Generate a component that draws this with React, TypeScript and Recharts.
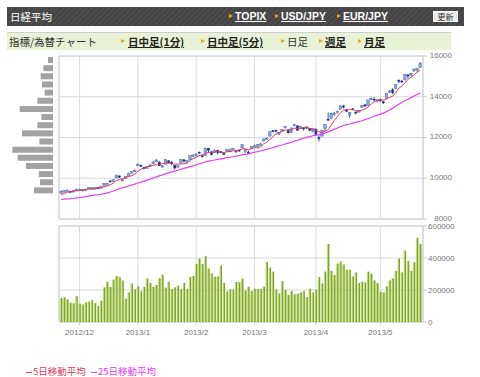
import React from 'react';
import { ComposedChart, BarChart, Bar, Line, XAxis, YAxis, CartesianGrid, ReferenceArea } from 'recharts';

// trading days shown on the chart
const dates = [
    '2012/11/22', '2012/11/26', '2012/11/27', '2012/11/28', '2012/11/29', '2012/11/30',
    '2012/12/03', '2012/12/04', '2012/12/05', '2012/12/06', '2012/12/07', '2012/12/10', '2012/12/11', '2012/12/12',
    '2012/12/13', '2012/12/14', '2012/12/17', '2012/12/18', '2012/12/19', '2012/12/20', '2012/12/21', '2012/12/25',
    '2012/12/26', '2012/12/27', '2012/12/28',
    '2013/01/04', '2013/01/07', '2013/01/08', '2013/01/09', '2013/01/10', '2013/01/11', '2013/01/15', '2013/01/16',
    '2013/01/17', '2013/01/18', '2013/01/21', '2013/01/22', '2013/01/23', '2013/01/24', '2013/01/25', '2013/01/28',
    '2013/01/29', '2013/01/30', '2013/01/31',
    '2013/02/01', '2013/02/04', '2013/02/05', '2013/02/06', '2013/02/07', '2013/02/08', '2013/02/12', '2013/02/13',
    '2013/02/14', '2013/02/15', '2013/02/18', '2013/02/19', '2013/02/20', '2013/02/21', '2013/02/22', '2013/02/25',
    '2013/02/26', '2013/02/27', '2013/02/28',
    '2013/03/01', '2013/03/04', '2013/03/05', '2013/03/06', '2013/03/07', '2013/03/08', '2013/03/11', '2013/03/12',
    '2013/03/13', '2013/03/14', '2013/03/15', '2013/03/18', '2013/03/19', '2013/03/21', '2013/03/22', '2013/03/25',
    '2013/03/26', '2013/03/27', '2013/03/28', '2013/03/29',
    '2013/04/01', '2013/04/02', '2013/04/03', '2013/04/04', '2013/04/05', '2013/04/08', '2013/04/09', '2013/04/10',
    '2013/04/11', '2013/04/12', '2013/04/15', '2013/04/16', '2013/04/17', '2013/04/18', '2013/04/19', '2013/04/22',
    '2013/04/23', '2013/04/24', '2013/04/25', '2013/04/26', '2013/04/30',
    '2013/05/01', '2013/05/02', '2013/05/07', '2013/05/08', '2013/05/09', '2013/05/10', '2013/05/13', '2013/05/14',
    '2013/05/15', '2013/05/16', '2013/05/17', '2013/05/20', '2013/05/21', '2013/05/22',
];

const opens = [
    9260, 9378, 9380, 9372, 9325, 9443,
    9456, 9442, 9424, 9515, 9518, 9510, 9553, 9560, 9640, 9715, 9882, 9850, 10018, 10125, 9930, 9975, 10104, 10296, 10323,
    10604, 10644, 10545, 10492, 10640, 10700, 10858, 10804, 10570, 10688, 10872, 10795, 10642, 10542, 10745, 10922, 10818, 10908, 11132,
    11107, 11290, 11124, 11125, 11482, 11318, 11275, 11386, 11322, 11228, 11393, 11355, 11437, 11376, 11390, 11492, 11351, 11296, 11453,
    11567, 11565, 11656, 11830, 11966, 12070, 12355, 12370, 12239, 12317, 12484, 12383, 12250, 12568, 12588, 12450, 12483, 12528, 12464, 12316,
    12428, 12008, 12072, 12458, 12903, 12921, 13150, 13249, 13382, 13571, 13368, 13098, 13420, 13260, 13260, 13500, 13621, 13575, 13867, 13891, 13792,
    13856, 13773, 13937, 14262, 14355, 14408, 14818, 14781, 14839, 15082, 15120, 15286, 15357, 15440,
];
const highs = [
    9400, 9420, 9430, 9392, 9410, 9495,
    9486, 9458, 9485, 9560, 9547, 9548, 9570, 9590, 9755, 9765, 9905, 9935, 10164, 10140, 9985, 10095, 10240, 10345, 10433,
    10734, 10672, 10555, 10590, 10678, 10850, 10952, 10832, 10645, 10925, 10875, 10851, 10655, 10638, 10943, 10952, 10890, 11116, 11171,
    11216, 11310, 11154, 11498, 11488, 11320, 11407, 11394, 11336, 11278, 11435, 11460, 11498, 11400, 11395, 11662, 11420, 11366, 11563,
    11640, 11655, 11721, 11943, 12003, 12284, 12364, 12377, 12275, 12390, 12560, 12413, 12475, 12650, 12593, 12568, 12505, 12541, 12478, 12435,
    12428, 12095, 12383, 12650, 13225, 13217, 13253, 13314, 13568, 13576, 13380, 13250, 13448, 13282, 13330, 13589, 13629, 13845, 13974, 13980, 13880,
    13911, 13798, 14187, 14325, 14415, 14621, 14852, 14838, 15104, 15108, 15178, 15381, 15418, 15700,
];
const lows = [
    9245, 9360, 9352, 9285, 9302, 9418,
    9437, 9410, 9405, 9505, 9485, 9490, 9510, 9538, 9630, 9685, 9800, 9815, 10000, 10010, 9850, 9960, 10095, 10260, 10297,
    10602, 10558, 10430, 10469, 10560, 10692, 10805, 10600, 10550, 10678, 10731, 10630, 10436, 10523, 10740, 10785, 10729, 10900, 11070,
    11070, 11234, 11017, 11105, 11282, 11120, 11256, 11180, 11223, 11138, 11370, 11330, 11410, 11240, 11310, 11488, 11250, 11195, 11440,
    11546, 11534, 11625, 11815, 11894, 12053, 12272, 12245, 12128, 12280, 12450, 12198, 12216, 12560, 12329, 12429, 12348, 12421, 12336, 12244,
    12135, 11805, 12049, 12290, 12830, 12895, 13070, 13180, 13380, 13425, 13243, 12981, 13340, 13145, 13245, 13458, 13529, 13560, 13835, 13820, 13731,
    13756, 13640, 13910, 14203, 14130, 14370, 14672, 14692, 14795, 14889, 14997, 15220, 15225, 15410,
];
const closes = [
    9366, 9389, 9423, 9308, 9400, 9446,
    9458, 9433, 9468, 9545, 9528, 9534, 9525, 9581, 9743, 9737, 9828, 9924, 10161, 10040, 9940, 10081, 10230, 10323, 10395,
    10689, 10599, 10509, 10578, 10652, 10801, 10879, 10600, 10610, 10913, 10748, 10710, 10487, 10621, 10927, 10824, 10866, 11114, 11139,
    11191, 11260, 11047, 11463, 11358, 11154, 11370, 11252, 11307, 11174, 11408, 11373, 11469, 11310, 11386, 11663, 11399, 11254, 11559,
    11607, 11653, 11683, 11932, 11969, 12283, 12349, 12315, 12240, 12382, 12560, 12221, 12469, 12636, 12339, 12547, 12472, 12494, 12336, 12398,
    12135, 12004, 12362, 12635, 12834, 13193, 13193, 13289, 13549, 13485, 13275, 13221, 13383, 13221, 13317, 13569, 13530, 13844, 13927, 13884, 13861,
    13800, 13695, 14181, 14285, 14192, 14608, 14782, 14759, 15097, 15037, 15138, 15360, 15382, 15627,
];
// closes before the window, needed for the moving averages
const priorCloses = [
    9002, 9010, 9014, 8955, 9056, 8934, 8930, 8841, 8928, 8946, 9052, 8975,
    8975, 8972, 8838, 8758, 8677, 8662, 8665, 8830, 9024, 9153, 9142, 9222,
];
const volumes = [
    150, 154, 142, 121, 117, 162, 115, 110, 123, 127, 137, 119, 100, 133, 217, 252, 219, 265, 287, 281,
    260, 146, 185, 240, 204, 223, 192, 219, 273, 244, 219, 231, 273, 296, 215, 252, 206, 217, 227,
    204, 244, 208, 281, 287, 362, 396, 362, 412, 335, 304, 283, 285, 354, 244, 192, 204, 202, 250, 248,
    271, 196, 221, 194, 208, 206, 206, 221, 375, 340, 315, 204, 179, 256, 202, 169, 194, 173, 177, 185,
    194, 156, 208, 185, 202, 281, 240, 315, 487, 319, 294, 365, 377, 360, 327, 327, 285, 310, 244, 252,
    248, 315, 302, 260, 244, 190, 185, 223, 260, 273, 319, 396, 310, 446, 381, 319, 373, 527, 487,
].map((v) => v * 1000);

const priceTicks = [8000, 10000, 12000, 14000, 16000];
const volumeTicks = [0, 200000, 400000, 600000];

// price-by-volume profile, 400 yen bins from the top
const profileBins = [
    '15800', '15400', '15000', '14600', '14200', '13800', '13400', '13000', '12600', '12200',
    '11800', '11400', '11000', '10600', '10200', '9800', '9400', '9000', '8600', '8200',
];
const profileVolumes = [50, 96, 123, 110, 83, 156, 333, 116, 156, 310, 136, 406, 353, 270, 143, 130, 190, 0, 0, 0];

const allCloses = [...priorCloses, ...closes];
const movingAverage = (n: number, i: number) => {
    const end = priorCloses.length + i + 1;
    const slice = allCloses.slice(end - n, end);
    return slice.reduce((a, b) => a + b, 0) / n;
};

const data = dates.map((d, i) => ({
    i,
    date: d,
    open: opens[i],
    high: highs[i],
    low: lows[i],
    close: closes[i],
    range: [lows[i], highs[i]],
    volume: volumes[i],
    ma5: movingAverage(5, i),
    ma25: movingAverage(25, i),
}));

const monthTicks = data.filter((d, i) => i > 0 && d.date.slice(0, 7) !== dates[i - 1].slice(0, 7)).map((d) => d.i);
const monthLabel = (v: number) => {
    const [y, m] = dates[v].split('/');
    return `${y}/${Number(m)}`;
};

const profileData = profileBins.map((b, i) => ({ bin: b, vol: profileVolumes[i] }));

const X_DOMAIN: [number, number] = [-0.7, 117.9];
const axisFont = { fontFamily: '"Liberation Sans", Arial, sans-serif', fontSize: 8, fill: '#777' };
const GRID = '#dadada';
const JP = '"Noto Sans CJK JP", sans-serif';

const Candle = (props: any) => {
    const { x, y, width, height, payload } = props;
    const span = payload.high - payload.low || 1;
    const py = (v: number) => y + ((payload.high - v) / span) * height;
    const up = payload.close >= payload.open;
    const cx = x + width / 2;
    const top = py(Math.max(payload.open, payload.close));
    const bh = Math.max(1.5, Math.abs(py(payload.open) - py(payload.close)));
    return (
        <g>
            <line x1={cx} x2={cx} y1={y} y2={y + height} stroke='#1f3a8c' strokeWidth={0.9} />
            <rect
                x={cx - 1.3}
                y={top}
                width={2.6}
                height={bh}
                fill={up ? '#86a4da' : '#1b2f88'}
                stroke={up ? '#4a68ae' : 'none'}
                strokeWidth={0.4}
            />
        </g>
    );
};

const VolumeBar = (props: any) => {
    const { x, y, width, height } = props;
    const cx = x + width / 2;
    return (
        <g>
            <rect x={cx - 1.2} y={y} width={1} height={height} fill='#c3dc88' />
            <rect x={cx - 0.2} y={y} width={1.5} height={height} fill='#7ea61e' />
        </g>
    );
};

const PriceTick = (props: any) => {
    const { x, y, payload } = props;
    return (
        <text x={x + 23} y={y - 1} dy='0.355em' textAnchor='end' {...axisFont}>
            {payload.value}
        </text>
    );
};

const Tri = ({ left, top }: { left: number; top: number }) => (
    <span
        style={{
            position: 'absolute',
            left,
            top,
            width: 0,
            height: 0,
            borderLeft: '4px solid #f3a21c',
            borderTop: '2.5px solid transparent',
            borderBottom: '2.5px solid transparent',
        }}
    />
);

const abs = (left: number, top: number, extra: React.CSSProperties = {}): React.CSSProperties => ({
    position: 'absolute',
    left,
    top,
    whiteSpace: 'nowrap',
    ...extra,
});

export default function App() {
    const headLink: React.CSSProperties = {
        fontFamily: '"Liberation Sans", Arial, sans-serif',
        fontWeight: 'bold',
        fontSize: 10.5,
        color: '#fff',
        textDecoration: 'underline',
        lineHeight: '19px',
    };
    const tab: React.CSSProperties = {
        fontFamily: JP,
        fontWeight: 'bold',
        fontSize: 10.5,
        color: '#222',
        textDecoration: 'underline',
        lineHeight: '17px',
    };
    return (
        <div style={{ position: 'absolute', left: 0, top: 0, width: 480, height: 377, background: '#fff', overflow: 'hidden' }}>
            {/* header */}
            <div
                style={abs(7, 7, {
                    width: 457,
                    height: 19,
                    background: 'repeating-linear-gradient(135deg, #4d4d4d 0 2px, #444 2px 4px)',
                })}
            />
            <div style={abs(10, 7, { fontFamily: JP, fontSize: 10.5, color: '#fff', lineHeight: '19px' })}>日経平均</div>
            <Tri left={229} top={14} />
            <div style={abs(235, 7, headLink)}>TOPIX</div>
            <Tri left={275} top={14} />
            <div style={abs(281, 7, headLink)}>USD/JPY</div>
            <Tri left={337} top={14} />
            <div style={abs(343, 7, headLink)}>EUR/JPY</div>
            <div
                style={abs(433, 11, {
                    width: 25,
                    height: 11,
                    background: '#ebebeb',
                    boxSizing: 'border-box',
                    border: '1px solid #fafafa',
                    fontFamily: JP,
                    fontSize: 8,
                    lineHeight: '9px',
                    color: '#333',
                    textAlign: 'center',
                })}
            >
                更新
            </div>

            {/* tabs row */}
            <div style={abs(7, 32, { width: 444, height: 17, background: '#e8f2d4', borderTop: '1px solid #cfcfcf' })} />
            <div style={abs(9, 33, { fontFamily: JP, fontSize: 10.5, color: '#333', lineHeight: '17px' })}>指標/為替チャート</div>
            <Tri left={121} top={39} />
            <div style={abs(128, 33, tab)}>日中足(1分)</div>
            <Tri left={201} top={39} />
            <div style={abs(207, 33, tab)}>日中足(5分)</div>
            <Tri left={281} top={39} />
            <div style={abs(287, 33, { ...tab, fontWeight: 'normal', textDecoration: 'none', color: '#333' })}>日足</div>
            <Tri left={319} top={39} />
            <div style={abs(325, 33, tab)}>週足</div>
            <Tri left={358} top={39} />
            <div style={abs(364, 33, tab)}>月足</div>

            {/* volume profile */}
            <div style={abs(0, 0)}>
                <BarChart width={56} height={222} data={profileData} layout='vertical' margin={{ top: 56, right: 3, bottom: 3, left: 0 }}>
                    <XAxis type='number' domain={[0, 530]} reversed hide />
                    <YAxis type='category' dataKey='bin' hide />
                    <Bar dataKey='vol' fill='#a2a2a2' barSize={6} isAnimationActive={false} />
                </BarChart>
            </div>

            {/* price chart */}
            <div style={abs(0, 0)}>
                <ComposedChart width={480} height={234} data={data} margin={{ top: 56, right: 0, bottom: 15, left: 59 }}>
                    <CartesianGrid stroke={GRID} />
                    <XAxis dataKey='i' type='number' domain={X_DOMAIN} ticks={monthTicks} allowDataOverflow hide />
                    <YAxis
                        orientation='right'
                        domain={[8000, 16000]}
                        ticks={priceTicks}
                        interval={0}
                        width={57}
                        axisLine={false}
                        tickLine={{ stroke: '#ccc' }}
                        tickSize={4}
                        tickMargin={2}
                        tick={<PriceTick />}
                        allowDataOverflow
                    />
                    <ReferenceArea x1={X_DOMAIN[0]} x2={X_DOMAIN[1]} y1={8000} y2={16000} fill='none' stroke='#cfcfcf' />
                    <Bar dataKey='range' barSize={3} shape={<Candle />} isAnimationActive={false} />
                    <Line dataKey='ma25' stroke='#e040f5' strokeWidth={1.2} dot={false} isAnimationActive={false} />
                    <Line dataKey='ma5' stroke='#e4385e' strokeWidth={1} dot={false} isAnimationActive={false} />
                </ComposedChart>
            </div>

            {/* volume chart */}
            <div style={abs(0, 0)}>
                <BarChart width={480} height={345} data={data} margin={{ top: 226, right: 0, bottom: 0, left: 59 }}>
                    <CartesianGrid stroke={GRID} />
                    <XAxis
                        dataKey='i'
                        type='number'
                        domain={X_DOMAIN}
                        ticks={monthTicks}
                        interval={0}
                        allowDataOverflow
                        tickFormatter={monthLabel}
                        tick={axisFont}
                        tickLine={{ stroke: '#ccc' }}
                        tickSize={3}
                        tickMargin={4}
                        axisLine={false}
                        height={23}
                    />
                    <YAxis
                        orientation='right'
                        domain={[0, 600000]}
                        ticks={volumeTicks}
                        interval={0}
                        width={57}
                        axisLine={false}
                        tickLine={{ stroke: '#ccc' }}
                        tickSize={4}
                        tickMargin={1}
                        tick={axisFont}
                        allowDataOverflow
                    />
                    <ReferenceArea x1={X_DOMAIN[0]} x2={X_DOMAIN[1]} y1={0} y2={600000} fill='none' stroke='#cfcfcf' />
                    <Bar dataKey='volume' barSize={3} shape={<VolumeBar />} isAnimationActive={false} />
                </BarChart>
            </div>

            {/* legend */}
            <div style={abs(26, 365, { fontFamily: JP, fontSize: 9.5, lineHeight: '12px', color: '#e4385e' })}>
                <span style={{ display: 'inline-block', width: 6, height: 1, background: '#e4385e', verticalAlign: 'middle', marginRight: 1 }} />
                5日移動平均
            </div>
            <div style={abs(91, 365, { fontFamily: JP, fontSize: 9.5, lineHeight: '12px', color: '#e040f5' })}>
                <span style={{ display: 'inline-block', width: 6, height: 1, background: '#e040f5', verticalAlign: 'middle', marginRight: 1 }} />
                25日移動平均
            </div>
        </div>
    );
}
